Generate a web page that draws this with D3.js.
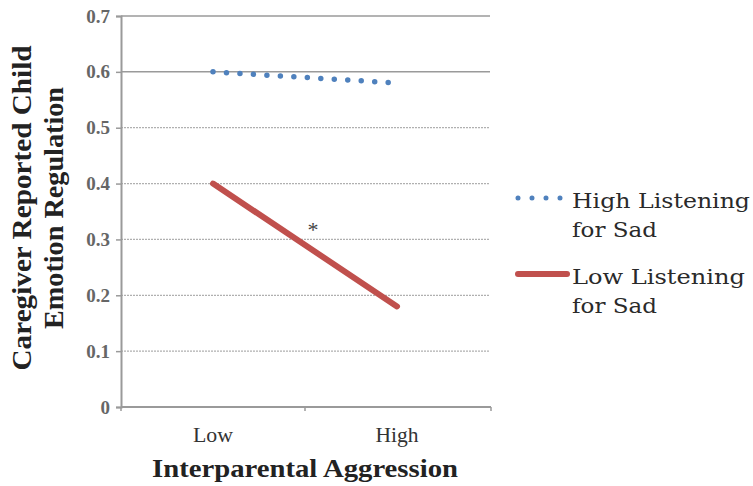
<!DOCTYPE html>
<html>
<head>
<meta charset="utf-8">
<script src="https://cdn.jsdelivr.net/npm/d3@7"></script>
<style>
  body { margin: 0; background: #fff; }
  svg text { font-family: "Liberation Serif", "Times New Roman", serif; }
</style>
</head>
<body>
<div id="svg-container"></div>
<script>
let w = 753;
let h = 486;

// data
let categories = ['Low', 'High'];
let highListening = [0.60, 0.58];
let lowListening = [0.40, 0.18];
let yTicks = [0, 0.1, 0.2, 0.3, 0.4, 0.5, 0.6, 0.7];
let seriesNames = ['High Listening|for Sad', 'Low Listening|for Sad'];

let pLeft = 121, pRight = 489, pTop = 16, pBottom = 407;

let svg = d3.select('#svg-container').
append('svg').
attr('width', w).
attr('height', h);

let x = d3.scaleBand().
domain(categories).
range([pLeft, pRight]);

let y = d3.scaleLinear().
domain([0, 0.7]).
range([pBottom, pTop]);

// gridlines
svg.append('g').selectAll('line').
data(yTicks.filter(d => d > 0)).
enter().
append('line').
attr('x1', pLeft).
attr('x2', pRight + 1).
attr('y1', d => y(d)).
attr('y2', d => y(d)).
attr('stroke', d => d >= 0.6 ? '#9a9a9a' : '#b0b0b0').
attr('stroke-width', d => d >= 0.6 ? 1.5 : 1.3).
attr('stroke-dasharray', d => d >= 0.6 ? null : '2,1');

// y axis
let yAxis = d3.axisLeft(y).tickValues(yTicks).tickSize(5).tickPadding(6).
tickFormat(d => d === 0 ? '0' : d.toFixed(1));
let gy = svg.append('g').
attr('transform', 'translate(' + pLeft + ',0)').
call(yAxis);
gy.select('.domain').attr('stroke', '#9a9a9a').attr('stroke-width', 2);
gy.selectAll('.tick line').attr('stroke', '#9a9a9a').attr('stroke-width', 1.5);
gy.selectAll('.tick text').
attr('fill', '#666').
style('font-size', '19px').
style('font-weight', 'bold');

// x axis
let gx = svg.append('g').attr('transform', 'translate(0,' + pBottom + ')');
gx.append('line').
attr('x1', pLeft).attr('x2', pRight + 2).
attr('stroke', '#9a9a9a').attr('stroke-width', 2);
gx.selectAll('.xt').
data([pLeft, x('High'), pRight + 2]).
enter().
append('line').
attr('x1', d => d).attr('x2', d => d).
attr('y1', 0).attr('y2', 4).
attr('stroke', '#9a9a9a').attr('stroke-width', 1.5);
gx.selectAll('text').
data(categories).
enter().
append('text').
attr('x', d => x(d) + x.bandwidth() / 2).
attr('y', 35).
attr('text-anchor', 'middle').
attr('fill', '#333').
style('font-size', '20px').
attr('textLength', d => d === 'Low' ? 40 : 43).
attr('lengthAdjust', 'spacingAndGlyphs').
text(d => d);

// axis titles
svg.append('text').
attr('x', 305).
attr('y', 477).
attr('text-anchor', 'middle').
attr('fill', '#222').
style('font-size', '26px').
style('font-weight', 'bold').
attr('textLength', 306).
attr('lengthAdjust', 'spacingAndGlyphs').
text('Interparental Aggression');

let yt = svg.append('text').
attr('transform', 'translate(31,208) rotate(-90)').
attr('text-anchor', 'middle').
attr('fill', '#222').
style('font-size', '27px').
style('font-weight', 'bold');
yt.append('tspan').attr('x', 0).attr('dy', 0).
attr('textLength', 325).attr('lengthAdjust', 'spacingAndGlyphs').
text('Caregiver Reported Child');
yt.append('tspan').attr('x', 0).attr('dy', 32).
attr('textLength', 242).attr('lengthAdjust', 'spacingAndGlyphs').
text('Emotion Regulation');

// lines
let cx = d => x(d) + x.bandwidth() / 2;
let line = d3.line().
x((d, i) => cx(categories[i])).
y(d => y(d));

svg.append('path').
datum(lowListening).
attr('d', line).
attr('fill', 'none').
attr('stroke', '#c0504d').
attr('stroke-width', 6).
attr('stroke-linecap', 'round');

svg.append('path').
datum(highListening).
attr('d', line).
attr('fill', 'none').
attr('stroke', '#4f81bd').
attr('stroke-width', 5.5).
attr('stroke-linecap', 'round').
attr('stroke-dasharray', '0,13.5');

// significance mark
svg.append('text').
attr('x', 313).
attr('y', 237).
attr('text-anchor', 'middle').
attr('fill', '#444').
style('font-size', '22px').
text('*');

// legend
let legend = svg.append('g').attr('id', 'legend');
let legendY = [198, 274];
let legendColor = ['#4f81bd', '#c0504d'];
let legendWidths = [[178, 85], [173, 85]];

legend.selectAll('line').
data(seriesNames).
enter().
append('line').
attr('x1', 518).
attr('x2', (d, i) => i === 0 ? 561 : 567).
attr('y1', (d, i) => legendY[i]).
attr('y2', (d, i) => legendY[i]).
attr('stroke', (d, i) => legendColor[i]).
attr('stroke-width', (d, i) => i === 0 ? 5 : 6).
attr('stroke-linecap', 'round').
attr('stroke-dasharray', (d, i) => i === 0 ? '0,14' : null);

legend.selectAll('text').
data(seriesNames).
enter().
append('text').
attr('x', 572).
attr('y', (d, i) => legendY[i] + 10).
attr('fill', '#2a2a2a').
style('font-family', '"DejaVu Serif", serif').
style('font-size', '21px').
each(function (d, i) {
  let parts = d.split('|');
  d3.select(this).append('tspan').attr('x', 572).attr('dy', 0).
  attr('textLength', legendWidths[i][0]).attr('lengthAdjust', 'spacingAndGlyphs').
  text(parts[0]);
  d3.select(this).append('tspan').attr('x', 572).attr('dy', 29).
  attr('textLength', legendWidths[i][1]).attr('lengthAdjust', 'spacingAndGlyphs').
  text(parts[1]);
});
</script>
</body>
</html>
